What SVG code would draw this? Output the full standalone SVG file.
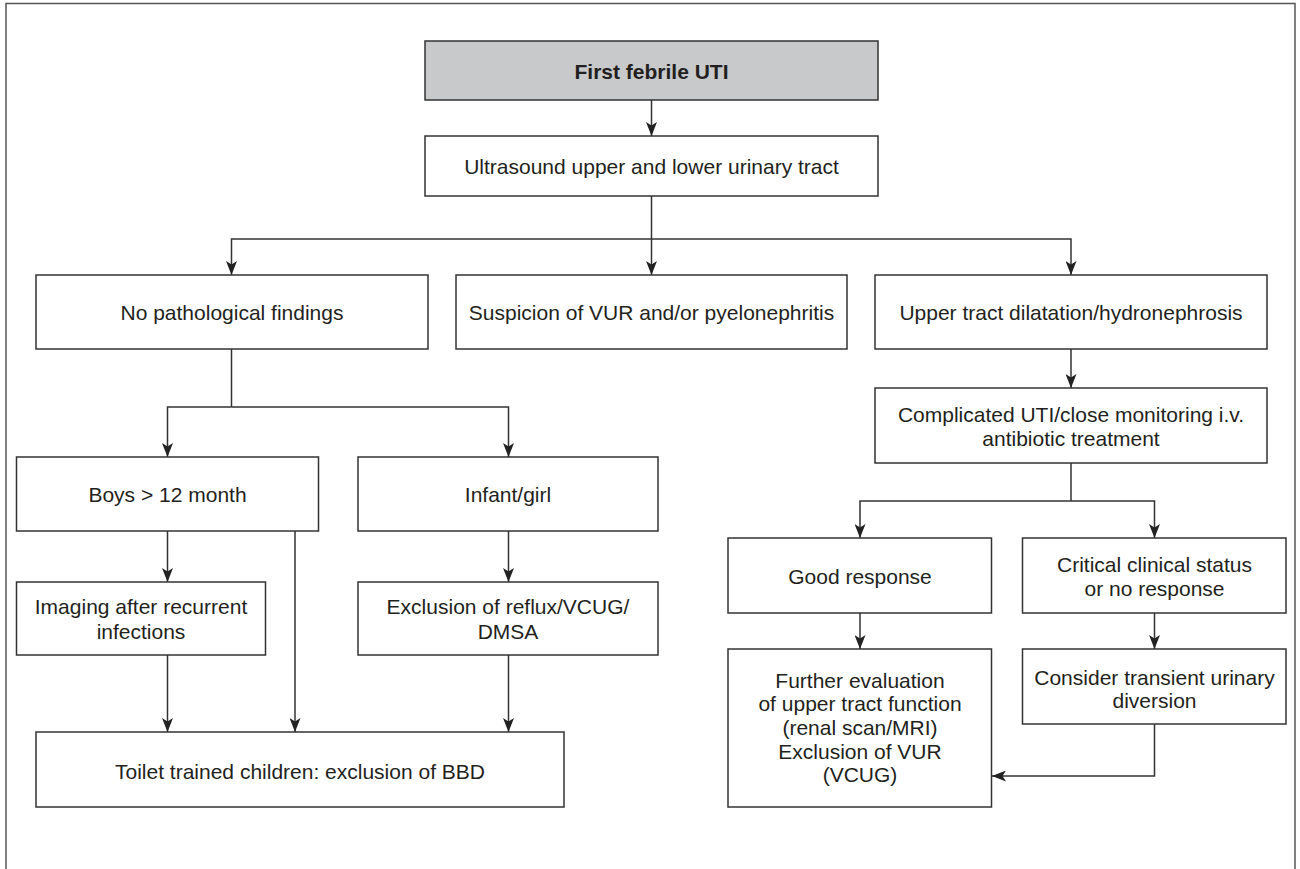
<svg xmlns="http://www.w3.org/2000/svg" width="1300" height="869" viewBox="0 0 1300 869">
<defs>
<style>
.box{fill:#fff;stroke:#333;stroke-width:1.5}
.head{fill:#c8c9cb;stroke:#333;stroke-width:1.5}
.t{font-family:"Liberation Sans",Arial,Helvetica,sans-serif;font-size:21px;fill:#231f20;text-anchor:middle}
.b{font-weight:bold}
.c{fill:none;stroke:#333;stroke-width:1.5}
</style>
<marker id="arr" markerUnits="userSpaceOnUse" viewBox="0 0 14 11" refX="14" refY="5.5" markerWidth="14" markerHeight="11" orient="auto">
<path d="M0,0 L14,5.5 L0,11 L3.5,5.5 Z" fill="#222"/>
</marker>
</defs>
<rect x="0" y="0" width="1300" height="869" fill="#fff"/>
<rect x="6" y="3.5" width="1289" height="900" fill="none" stroke="#555" stroke-width="1.5"/>

<g id="connectors">
<path class="c" d="M651.5,100 L651.5,136" marker-end="url(#arr)"/>
<path class="c" d="M651.5,196 L651.5,275" marker-end="url(#arr)"/>
<path class="c" d="M651.5,239 L231.5,239 L231.5,275" marker-end="url(#arr)"/>
<path class="c" d="M651.5,239 L1071,239 L1071,275" marker-end="url(#arr)"/>
<path class="c" d="M231.5,349 L231.5,407"/>
<path class="c" d="M231.5,407 L167.5,407 L167.5,457" marker-end="url(#arr)"/>
<path class="c" d="M231.5,407 L508.5,407 L508.5,457" marker-end="url(#arr)"/>
<path class="c" d="M167.5,531 L167.5,582" marker-end="url(#arr)"/>
<path class="c" d="M295,531 L295,732" marker-end="url(#arr)"/>
<path class="c" d="M508.5,531 L508.5,582" marker-end="url(#arr)"/>
<path class="c" d="M167.5,655 L167.5,732" marker-end="url(#arr)"/>
<path class="c" d="M508.5,655 L508.5,732" marker-end="url(#arr)"/>
<path class="c" d="M1071,349 L1071,388" marker-end="url(#arr)"/>
<path class="c" d="M1071,463 L1071,501"/>
<path class="c" d="M1071,501 L860,501 L860,538" marker-end="url(#arr)"/>
<path class="c" d="M1071,501 L1154.5,501 L1154.5,538" marker-end="url(#arr)"/>
<path class="c" d="M860,613 L860,649" marker-end="url(#arr)"/>
<path class="c" d="M1154.5,613 L1154.5,649" marker-end="url(#arr)"/>
<path class="c" d="M1154.5,724 L1154.5,776 L992,776" marker-end="url(#arr)"/>
</g>

<g id="n-first">
<rect class="head" x="425" y="41" width="453" height="59"/>
<text class="t b" x="651.5" y="79">First febrile UTI</text>
</g>
<g id="n-ultrasound">
<rect class="box" x="425" y="136" width="453" height="60"/>
<text class="t" x="651.5" y="174">Ultrasound upper and lower urinary tract</text>
</g>
<g id="n-nopath">
<rect class="box" x="36" y="275" width="392" height="74"/>
<text class="t" x="232" y="320">No pathological findings</text>
</g>
<g id="n-suspicion">
<rect class="box" x="456" y="275" width="391" height="74"/>
<text class="t" x="651.5" y="320">Suspicion of VUR and/or pyelonephritis</text>
</g>
<g id="n-upper">
<rect class="box" x="875" y="275" width="392" height="74"/>
<text class="t" x="1071" y="320">Upper tract dilatation/hydronephrosis</text>
</g>
<g id="n-boys">
<rect class="box" x="16.5" y="457" width="302" height="74"/>
<text class="t" x="167.5" y="502">Boys &gt; 12 month</text>
</g>
<g id="n-infant">
<rect class="box" x="358" y="457" width="300" height="74"/>
<text class="t" x="508" y="502">Infant/girl</text>
</g>
<g id="n-imaging">
<rect class="box" x="16.5" y="582" width="249" height="73"/>
<text class="t" x="141" y="614">Imaging after recurrent</text>
<text class="t" x="141" y="639">infections</text>
</g>
<g id="n-exclusion">
<rect class="box" x="358" y="582" width="300" height="73"/>
<text class="t" x="508" y="614">Exclusion of reflux/VCUG/</text>
<text class="t" x="508" y="639">DMSA</text>
</g>
<g id="n-toilet">
<rect class="box" x="36" y="732" width="528" height="75"/>
<text class="t" x="300" y="779">Toilet trained children: exclusion of BBD</text>
</g>
<g id="n-complicated">
<rect class="box" x="875" y="388" width="392" height="75"/>
<text class="t" x="1071" y="422">Complicated UTI/close monitoring i.v.</text>
<text class="t" x="1071" y="446">antibiotic treatment</text>
</g>
<g id="n-good">
<rect class="box" x="728" y="538" width="263.5" height="75"/>
<text class="t" x="860" y="584">Good response</text>
</g>
<g id="n-critical">
<rect class="box" x="1022.5" y="538" width="263.5" height="75"/>
<text class="t" x="1154.5" y="572">Critical clinical status</text>
<text class="t" x="1154.5" y="596">or no response</text>
</g>
<g id="n-further">
<rect class="box" x="728" y="649" width="263.5" height="158"/>
<text class="t" x="860" y="688">Further evaluation</text>
<text class="t" x="860" y="711">of upper tract function</text>
<text class="t" x="860" y="735">(renal scan/MRI)</text>
<text class="t" x="860" y="759">Exclusion of VUR</text>
<text class="t" x="860" y="782">(VCUG)</text>
</g>
<g id="n-consider">
<rect class="box" x="1022.5" y="649" width="263.5" height="75"/>
<text class="t" x="1154.5" y="685">Consider transient urinary</text>
<text class="t" x="1154.5" y="708">diversion</text>
</g>
</svg>
